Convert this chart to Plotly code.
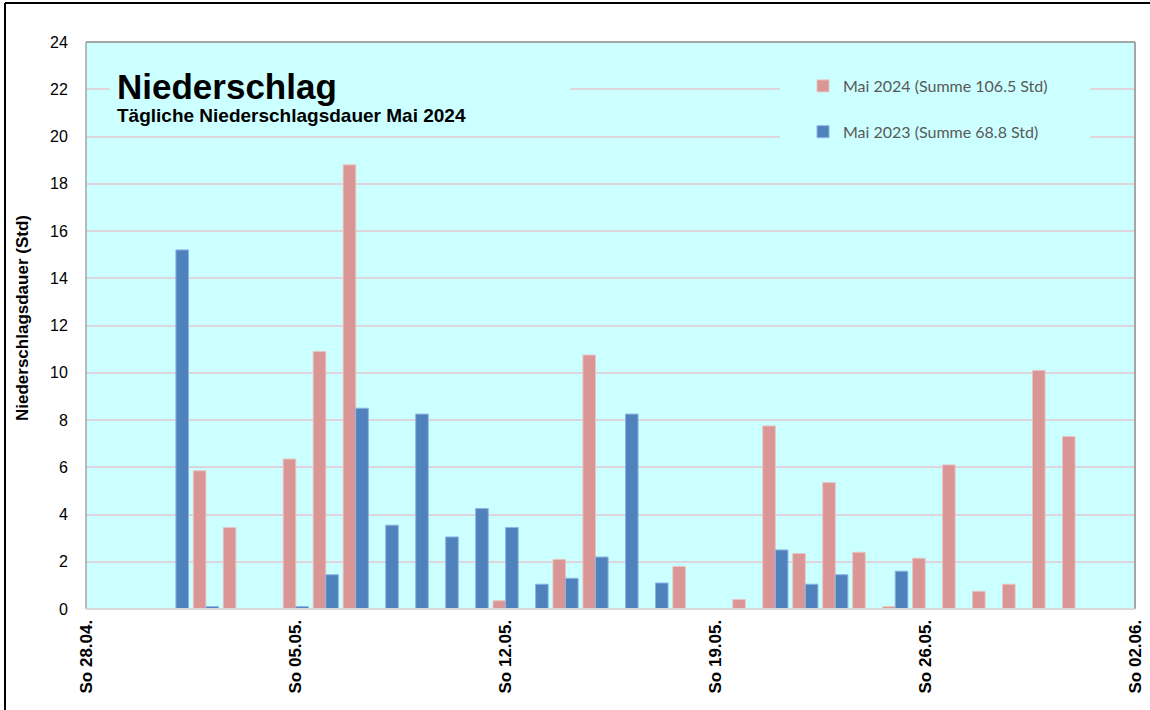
import plotly.graph_objects as go

# ---- data ----
dates = ["2024-05-01", "2024-05-02", "2024-05-03", "2024-05-04", "2024-05-05", "2024-05-06",
         "2024-05-07", "2024-05-08", "2024-05-09", "2024-05-10", "2024-05-11", "2024-05-12",
         "2024-05-13", "2024-05-14", "2024-05-15", "2024-05-16", "2024-05-17", "2024-05-18",
         "2024-05-19", "2024-05-20", "2024-05-21", "2024-05-22", "2024-05-23", "2024-05-24",
         "2024-05-25", "2024-05-26", "2024-05-27", "2024-05-28", "2024-05-29", "2024-05-30",
         "2024-05-31"]

mai_2024 = [0, 5.85, 3.45, 0, 6.35, 10.9, 18.8, 0, 0, 0, 0, 0.35, 0, 2.1, 10.75, 0, 0, 1.8,
            0, 0.4, 7.75, 2.35, 5.35, 2.4, 0.1, 2.15, 6.1, 0.75, 1.05, 10.1, 7.3]

mai_2023 = [15.2, 0.1, 0, 0, 0.1, 1.45, 8.5, 3.55, 8.25, 3.05, 4.25, 3.45, 1.05, 1.3, 2.2, 8.25,
            1.1, 0, 0, 0, 2.5, 1.05, 1.45, 0, 1.6, 0, 0, 0, 0, 0, 0]

name_2024 = "Mai 2024 (Summe 106.5 Std)"
name_2023 = "Mai 2023 (Summe 68.8 Std)"

tick_vals = ["2024-04-28", "2024-05-05", "2024-05-12", "2024-05-19", "2024-05-26", "2024-06-02"]
tick_text = ["So 28.04.", "So 05.05.", "So 12.05.", "So 19.05.", "So 26.05.", "So 02.06."]

title_text = "Niederschlag"
subtitle_text = "Tägliche Niederschlagsdauer Mai 2024"
ytitle_text = "Niederschlagsdauer (Std)"

# ---- layout geometry (pixels) ----
W, H = 1150, 710
L, R, T, B = 86, 1135, 42, 609
pw, ph = R - L, B - T


def px(x):
    return (x - L) / pw


def py(y):
    return (B - y) / ph


BG = "#CCFFFF"
PINK = "#DA9694"
BLUE = "#4F81BD"

fig = go.Figure()
fig.add_trace(go.Bar(x=dates, y=mai_2024, name=name_2024, legendgroup="a",
                     marker=dict(color=PINK, line=dict(color="#E8C4C3", width=1))))
fig.add_trace(go.Bar(x=dates, y=mai_2023, name=name_2023, legendgroup="b",
                     marker=dict(color=BLUE, line=dict(color="#8DB4E2", width=1))))

shapes = [
    # boxes hiding gridlines behind title and legend
    dict(type="rect", xref="paper", yref="paper", x0=px(110), x1=px(570), y0=py(128), y1=py(60),
         fillcolor=BG, line=dict(width=0), layer="above"),
    dict(type="rect", xref="paper", yref="paper", x0=px(780), x1=px(1090), y0=py(152), y1=py(60),
         fillcolor=BG, line=dict(width=0), layer="above"),
    # plot area border
    dict(type="line", xref="paper", yref="paper", x0=0, x1=1, y0=1, y1=1,
         line=dict(color="#A6A6A6", width=2)),
    dict(type="line", xref="paper", yref="paper", x0=0, x1=0, y0=0, y1=1,
         line=dict(color="#A6A6A6", width=1.5)),
    dict(type="line", xref="paper", yref="paper", x0=1, x1=1, y0=0, y1=1,
         line=dict(color="#A6A6A6", width=2)),
    dict(type="line", xref="paper", yref="paper", x0=0, x1=1, y0=0, y1=0,
         line=dict(color="#D9D9D9", width=2)),
    # outer frame (top and left edges visible)
    dict(type="line", xref="paper", yref="paper", x0=px(5), x1=px(1160), y0=py(3), y1=py(3),
         line=dict(color="#000000", width=2)),
    dict(type="line", xref="paper", yref="paper", x0=px(5), x1=px(5), y0=py(3), y1=py(720),
         line=dict(color="#000000", width=2)),
]

annotations = [
    dict(text=title_text, xref="paper", yref="paper", x=px(115), y=py(86),
         xanchor="left", yanchor="middle", showarrow=False,
         font=dict(family="Liberation Sans", size=35, color="#000000", weight="bold")),
    dict(text=subtitle_text, xref="paper", yref="paper", x=px(115), y=py(115),
         xanchor="left", yanchor="middle", showarrow=False,
         font=dict(family="Liberation Sans", size=19, color="#000000", weight="bold")),
    dict(text=ytitle_text, xref="paper", yref="paper", x=px(22), y=py(318),
         xanchor="center", yanchor="middle", showarrow=False, textangle=-90,
         font=dict(family="Liberation Sans", size=17, color="#000000", weight="bold")),
]

fig.update_layout(
    width=W, height=H, autosize=False,
    margin=dict(l=L, r=W - R, t=T, b=H - B, pad=0, autoexpand=False),
    paper_bgcolor="#FFFFFF", plot_bgcolor=BG,
    barmode="group", bargap=0.16, bargroupgap=0,
    shapes=shapes, annotations=annotations,
    legend=dict(x=px(803), y=py(69), xanchor="left", yanchor="top",
                bgcolor="rgba(0,0,0,0)", tracegroupgap=22, traceorder="grouped",
                font=dict(family="Lato", size=16, color="#595959")),
    xaxis=dict(type="date", range=["2024-04-28", "2024-06-02"], automargin=False,
               tickmode="array", tickvals=tick_vals, ticktext=tick_text,
               tickangle=-90, showgrid=False, showline=False, zeroline=False,
               ticks="outside", ticklen=3, tickcolor="rgba(0,0,0,0)",
               tickfont=dict(family="Liberation Sans", size=17, color="#000000", weight="bold")),
    yaxis=dict(range=[0, 24], dtick=2, tick0=0, automargin=False,
               showgrid=True, gridcolor="#DDD5DA", gridwidth=1.5,
               zeroline=False, showline=False,
               ticks="outside", ticklen=14, tickcolor="rgba(0,0,0,0)",
               tickfont=dict(family="Liberation Sans", size=16, color="#000000")),
    showlegend=True,
)

fig.write_html(
    "out.html",
    config={"displayModeBar": False},
    post_script=(
        "document.documentElement.style.margin='0';"
        "document.documentElement.style.overflow='hidden';"
        "document.body.style.margin='0';"
        "document.body.style.overflow='hidden';"
        "var d=document.getElementById('{plot_id}');"
        "d.style.position='fixed';d.style.left='0px';d.style.top='0px';"
    ),
)
